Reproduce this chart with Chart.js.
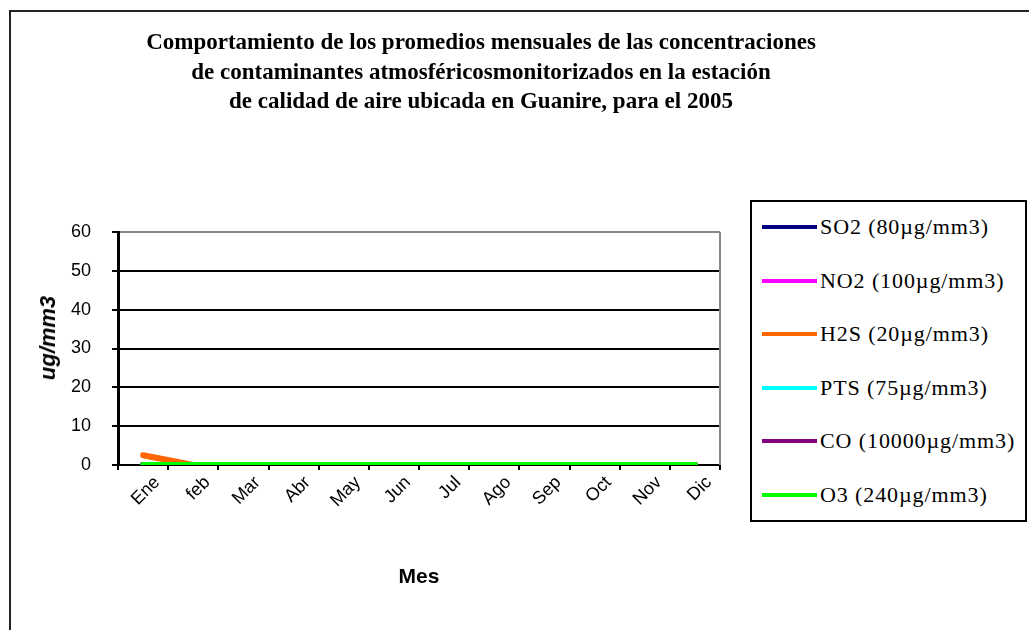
<!DOCTYPE html>
<html><head><meta charset="utf-8">
<script src="https://cdn.jsdelivr.net/npm/chart.js@4/dist/chart.umd.min.js"></script>
<style>
html,body{margin:0;padding:0;background:#fff;width:1029px;height:630px;overflow:hidden;position:relative;font-family:"Liberation Sans",Arial,sans-serif}
#frame{position:absolute;left:9px;top:10px;width:1100px;height:700px;border:2px solid #222;}
#title{position:absolute;left:0;width:962px;top:27px;text-align:center;font:bold 23px/29.5px "Liberation Serif","Times New Roman",serif;color:#000}
#wrap{position:absolute;left:0;top:0;width:1029px;height:630px}
#ytitle{position:absolute;left:48px;top:338px;transform:translate(-50%,-50%) rotate(-90deg);font:italic bold 22px "Liberation Sans",Arial,sans-serif;color:#000;white-space:nowrap;line-height:1}
#legend{position:absolute;left:750px;top:200px;width:277px;height:322px;border:2px solid #000;box-sizing:border-box;background:#fff}
.item{position:absolute;left:10px;height:30px;display:flex;align-items:center;font:22px "Liberation Serif","Times New Roman",serif;letter-spacing:0.9px;white-space:nowrap;color:#000}
.swatch{width:55px;height:4px;margin-right:3px;flex:none}
</style></head>
<body>
<div id="frame"></div>
<div id="wrap"><canvas id="c" width="1029" height="630"></canvas></div>
<div id="title">Comportamiento de los promedios mensuales de las concentraciones<br>de contaminantes atmosféricosmonitorizados en la estación<br>de calidad de aire ubicada en Guanire, para el 2005</div>
<div id="ytitle">ug/mm3</div>
<div id="legend"></div>
<script>
const months = ["Ene","feb","Mar","Abr","May","Jun","Jul","Ago","Sep","Oct","Nov","Dic"];
const seriesNames = ["SO2 (80µg/mm3)","NO2 (100µg/mm3)","H2S (20µg/mm3)","PTS (75µg/mm3)","CO (10000µg/mm3)","O3 (240µg/mm3)"];
const seriesColors = ["#000080","#FF00FF","#FF6600","#00FFFF","#800080","#00FF00"];
const so2 = [0,0,0,0,0,0,0,0,0,0,0,0];
const no2 = [0,0,0,0,0,0,0,0,0,0,0,0];
const h2s = [2.5,0,0,0,0,0,0,0,0,0,0,0];
const pts = [0,0,0,0,0,0,0,0,0,0,0,0];
const co  = [0,0,0,0,0,0,0,0,0,0,0,0];
const o3  = [0,0,0,0,0,0,0,0,0,0,0,0];
const yTicks = [0,10,20,30,40,50,60];
const seriesData = [so2,no2,h2s,pts,co,o3];

// legend
const lg = document.getElementById('legend');
seriesNames.forEach((n,i)=>{
  const d = document.createElement('div');
  d.className='item';
  d.style.top = (10 + i*53.6) + 'px';
  const s = document.createElement('span'); s.className='swatch'; s.style.background = seriesColors[i];
  const t = document.createElement('span'); t.textContent = n;
  d.appendChild(s); d.appendChild(t); lg.appendChild(d);
});

const frameBorder = {
  id:'frameBorder',
  beforeDatasetsDraw(chart){
    const {ctx, chartArea:a} = chart;
    ctx.save();
    ctx.strokeStyle='#888'; ctx.lineWidth=2;
    ctx.beginPath(); ctx.moveTo(a.right, a.top); ctx.lineTo(a.right, a.bottom); ctx.stroke();
    ctx.restore();
  }
};

new Chart(document.getElementById('c'), {
  type:'line',
  data:{
    labels: months,
    datasets: seriesData.map((d,i)=>({
      label: seriesNames[i], data: d, borderColor: seriesColors[i], backgroundColor: seriesColors[i],
      borderWidth: 6, borderCapStyle:'round', borderJoinStyle:'round', pointRadius:0, tension:0, fill:false,
      order: i===5 ? 0 : (i===2 ? 1 : 2)
    }))
  },
  options:{
    responsive:false, animation:false, devicePixelRatio:1,
    layout:{padding:{left:0, top:232, right:309, bottom:0}},
    plugins:{legend:{display:false}, title:{display:false}, tooltip:{enabled:false}},
    scales:{
      x:{
        offset:true,
        afterFit(s){ s.height = 165; },
        grid:{display:true, drawOnChartArea:false, drawTicks:true, tickLength:5, color:'#000', offset:true, lineWidth:2},
        border:{color:'#000', width:2},
        ticks:{autoSkip:false, minRotation:45, maxRotation:45, color:'#000', font:{family:'"Liberation Sans", Arial, sans-serif', size:18}, padding:2, labelOffset:14},
        title:{display:true, text:'Mes', color:'#000', font:{family:'"Liberation Sans", Arial, sans-serif', size:21, weight:'bold'}, padding:{top:0,bottom:40}}
      },
      y:{
        min:0, max:60,
        afterFit(s){ s.width = 118; },
        afterBuildTicks(s){ s.ticks = yTicks.map(v=>({value:v})); },
        grid:{color: c => (c.tick && c.tick.value===60) ? '#888' : '#000', lineWidth:2, tickLength:6, tickColor:'#000', tickWidth:2},
        border:{color:'#000', width:3},
        ticks:{color:'#000', font:{family:'"Liberation Sans", Arial, sans-serif', size:18}, padding:21},
        title:{display:false}
      }
    }
  },
  plugins:[frameBorder]
});
</script>
</body></html>
